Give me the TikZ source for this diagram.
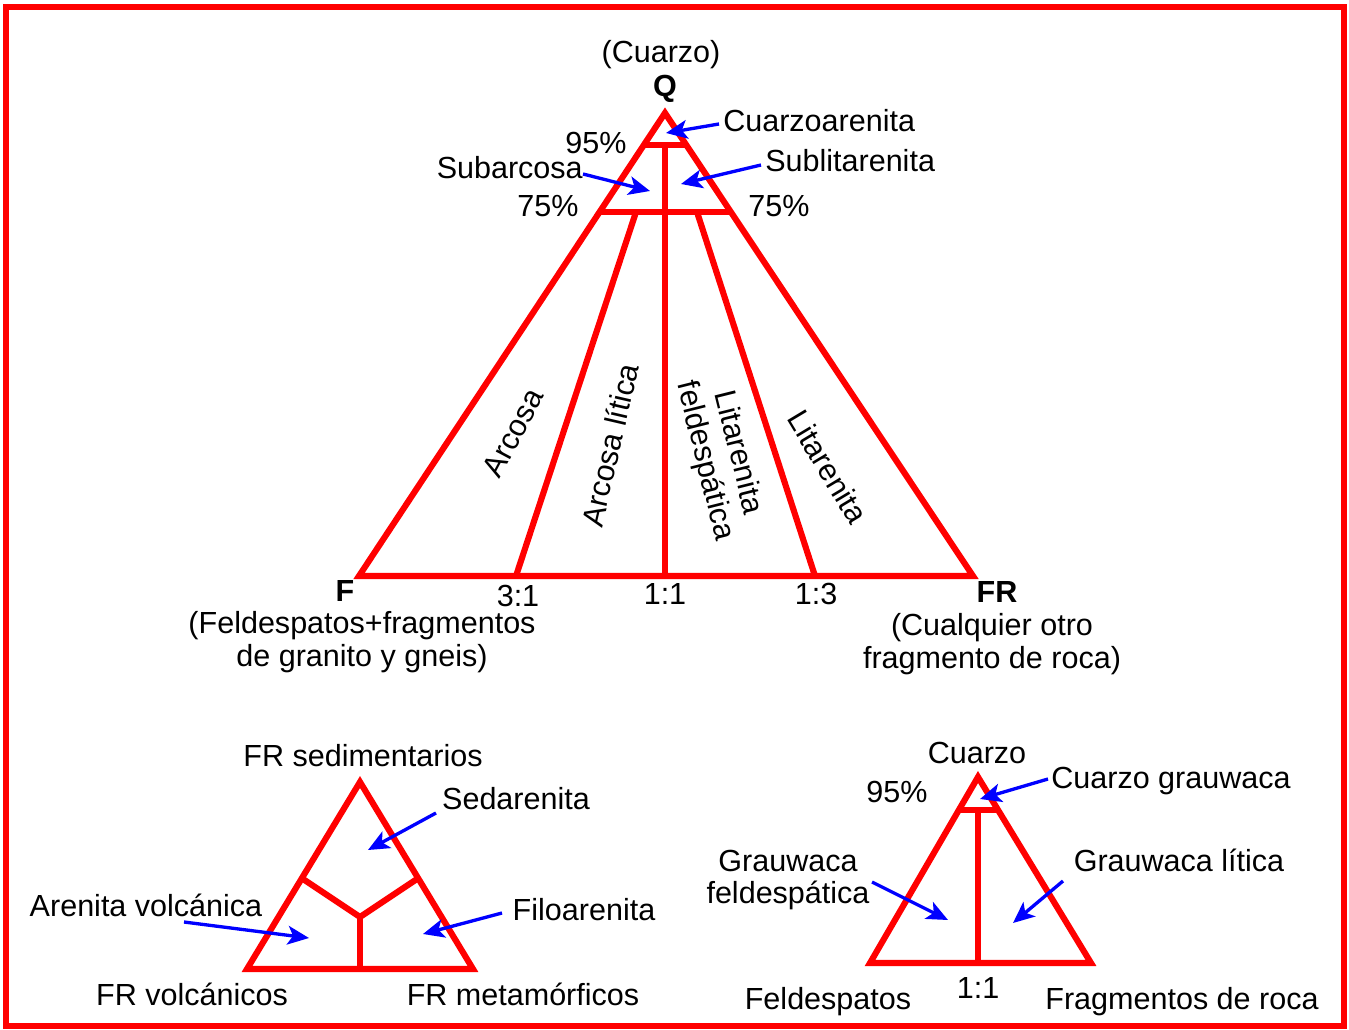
\documentclass[tikz,border=0pt]{standalone}
\usepackage{fontspec}
\setmainfont{Liberation Sans}
\usetikzlibrary{arrows.meta}
\definecolor{myred}{RGB}{255,0,0}
\definecolor{myblue}{RGB}{0,0,255}
\begin{document}
\begin{tikzpicture}[x=0.75pt,y=-0.75pt,
  redline/.style={draw=myred,line width=4.6pt,line join=miter},
  arr/.style={draw=myblue,line width=2.5pt,-{Stealth[length=16pt,width=14pt,inset=4pt]}},
  lbl/.style={inner sep=0pt,font=\fontsize{22.9}{25.5}\selectfont},
  blbl/.style={lbl,font=\fontsize{22.9}{25.5}\selectfont\bfseries}]
\useasboundingbox (0,0) rectangle (1349,1030);
\draw[myred,line width=4.8pt] (6,7) rectangle (1344,1026);

% ---------- main triangle ----------
\coordinate (Q) at (665,113);
\coordinate (F) at (359,576);
\coordinate (FR) at (973,576);
\coordinate (q95l) at (643.9,145);
\coordinate (q95r) at (686.1,145);
\coordinate (q95m) at (665,145);
\coordinate (q75l) at (599.6,212);
\coordinate (q75r) at (730.4,212);
\coordinate (q75a) at (636,212);
\coordinate (q75b) at (697,212);
\coordinate (b31) at (516,576);
\coordinate (b11) at (665,576);
\coordinate (b13) at (815,576);
\draw[redline] (Q) -- (F) -- (FR) -- cycle;
\draw[redline] (q95l) -- (q95r);
\draw[redline] (q75l) -- (q75r);
\draw[redline] (q95m) -- (b11);
\draw[redline] (q75a) -- (b31);
\draw[redline] (q75b) -- (b13);

\node[lbl,anchor=base] (cuarzoT) at (661,63) {(Cuarzo)};
\node[blbl,anchor=base] (qT) at (665,97) {Q};
\node[lbl,anchor=base west] (cuarzoarenita) at (723,132) {Cuarzoarenita};
\node[lbl,anchor=base west] (sublitarenita) at (765,172) {Sublitarenita};
\node[lbl,anchor=base east] (subarcosa) at (583,179) {Subarcosa};
\node[lbl,anchor=base] (p95) at (596,154) {95\%};
\node[lbl,anchor=base] (p75l) at (548,217) {75\%};
\node[lbl,anchor=base] (p75r) at (779,217) {75\%};

\coordinate (tCA) at (666,133);
\coordinate (sCA) at (719,124);
\coordinate (tSL) at (681,184);
\coordinate (sSL) at (761,165);
\coordinate (tSA) at (650,191);
\coordinate (sSA) at (583,174);
\draw[arr] (sCA) -- (tCA);
\draw[arr] (sSL) -- (tSL);
\draw[arr] (sSA) -- (tSA);

\node[lbl,rotate=62] (arcosa) at (513,433) {Arcosa};
\node[lbl,rotate=77] (arcosalitica) at (610,445) {Arcosa lítica};
\node[lbl,rotate=-76,align=center] (litfeld) at (721,457) {Litarenita\\feldespática};
\node[lbl,rotate=-59] (litarenita) at (828,467) {Litarenita};

\node[blbl,anchor=base] (fT) at (345,601) {F};
\node[lbl,anchor=base] (r31) at (518,606) {3:1};
\node[lbl,anchor=base] (r11) at (665,604) {1:1};
\node[lbl,anchor=base] (r13) at (816,604) {1:3};
\node[blbl,anchor=base] (frT) at (997,602) {FR};
\node[lbl,anchor=base] (fdesc1) at (362,633) {(Feldespatos+fragmentos};
\node[lbl,anchor=base] (fdesc2) at (362,666) {de granito y gneis)};
\node[lbl,anchor=base] (frdesc1) at (992,635) {(Cualquier otro};
\node[lbl,anchor=base] (frdesc2) at (992,668) {fragmento de roca)};

% ---------- bottom-left triangle ----------
\coordinate (A) at (360,782);
\coordinate (B) at (247,969);
\coordinate (C) at (473,969);
\coordinate (il) at (303,879);
\coordinate (ir) at (417,879);
\coordinate (ij) at (360,917);
\coordinate (ib) at (360,969);
\draw[redline] (A) -- (B) -- (C) -- cycle;
\draw[redline] (il) -- (ij) -- (ir);
\draw[redline] (ij) -- (ib);

\node[lbl,anchor=base] (frsed) at (363,766) {FR sedimentarios};
\node[lbl,anchor=base] (sedarenita) at (516,809) {Sedarenita};
\node[lbl,anchor=base] (arevol) at (146,916) {Arenita volcánica};
\node[lbl,anchor=base] (filo) at (584,920) {Filoarenita};
\node[lbl,anchor=base] (frvol) at (192,1005) {FR volcánicos};
\node[lbl,anchor=base] (frmet) at (523,1005) {FR metamórficos};

\coordinate (sSed) at (436,813);
\coordinate (tSed) at (368,850);
\coordinate (sAV) at (184,922);
\coordinate (tAV) at (309,938);
\coordinate (sFi) at (502,913);
\coordinate (tFi) at (423,934);
\draw[arr] (sSed) -- (tSed);
\draw[arr] (sAV) -- (tAV);
\draw[arr] (sFi) -- (tFi);

% ---------- bottom-right triangle ----------
\coordinate (D) at (978,777);
\coordinate (E) at (870,963);
\coordinate (G) at (1091,963);
\coordinate (d95l) at (958.4,810);
\coordinate (d95r) at (997.6,810);
\coordinate (d95m) at (978,810);
\coordinate (db) at (978,963);
\draw[redline] (D) -- (E) -- (G) -- cycle;
\draw[redline] (d95l) -- (d95r);
\draw[redline] (d95m) -- (db);

\node[lbl,anchor=base] (cuarzo2) at (977,763) {Cuarzo};
\node[lbl,anchor=base] (p95b) at (897,802) {95\%};
\node[lbl,anchor=base] (cgrau) at (1171,788) {Cuarzo grauwaca};
\node[lbl,anchor=base] (gf1) at (788,871) {Grauwaca};
\node[lbl,anchor=base] (gf2) at (788,903) {feldespática};
\node[lbl,anchor=base] (glit) at (1179,871) {Grauwaca lítica};
\node[lbl,anchor=base] (feld) at (828,1009) {Feldespatos};
\node[lbl,anchor=base] (r11b) at (978,998) {1:1};
\node[lbl,anchor=base] (fragr) at (1182,1009) {Fragmentos de roca};

\coordinate (sCG) at (1048,779);
\coordinate (tCG) at (980,799);
\coordinate (sGF) at (872,882);
\coordinate (tGF) at (948,920);
\coordinate (sGL) at (1063,881);
\coordinate (tGL) at (1013,923);
\draw[arr] (sCG) -- (tCG);
\draw[arr] (sGF) -- (tGF);
\draw[arr] (sGL) -- (tGL);
\end{tikzpicture}
\end{document}
